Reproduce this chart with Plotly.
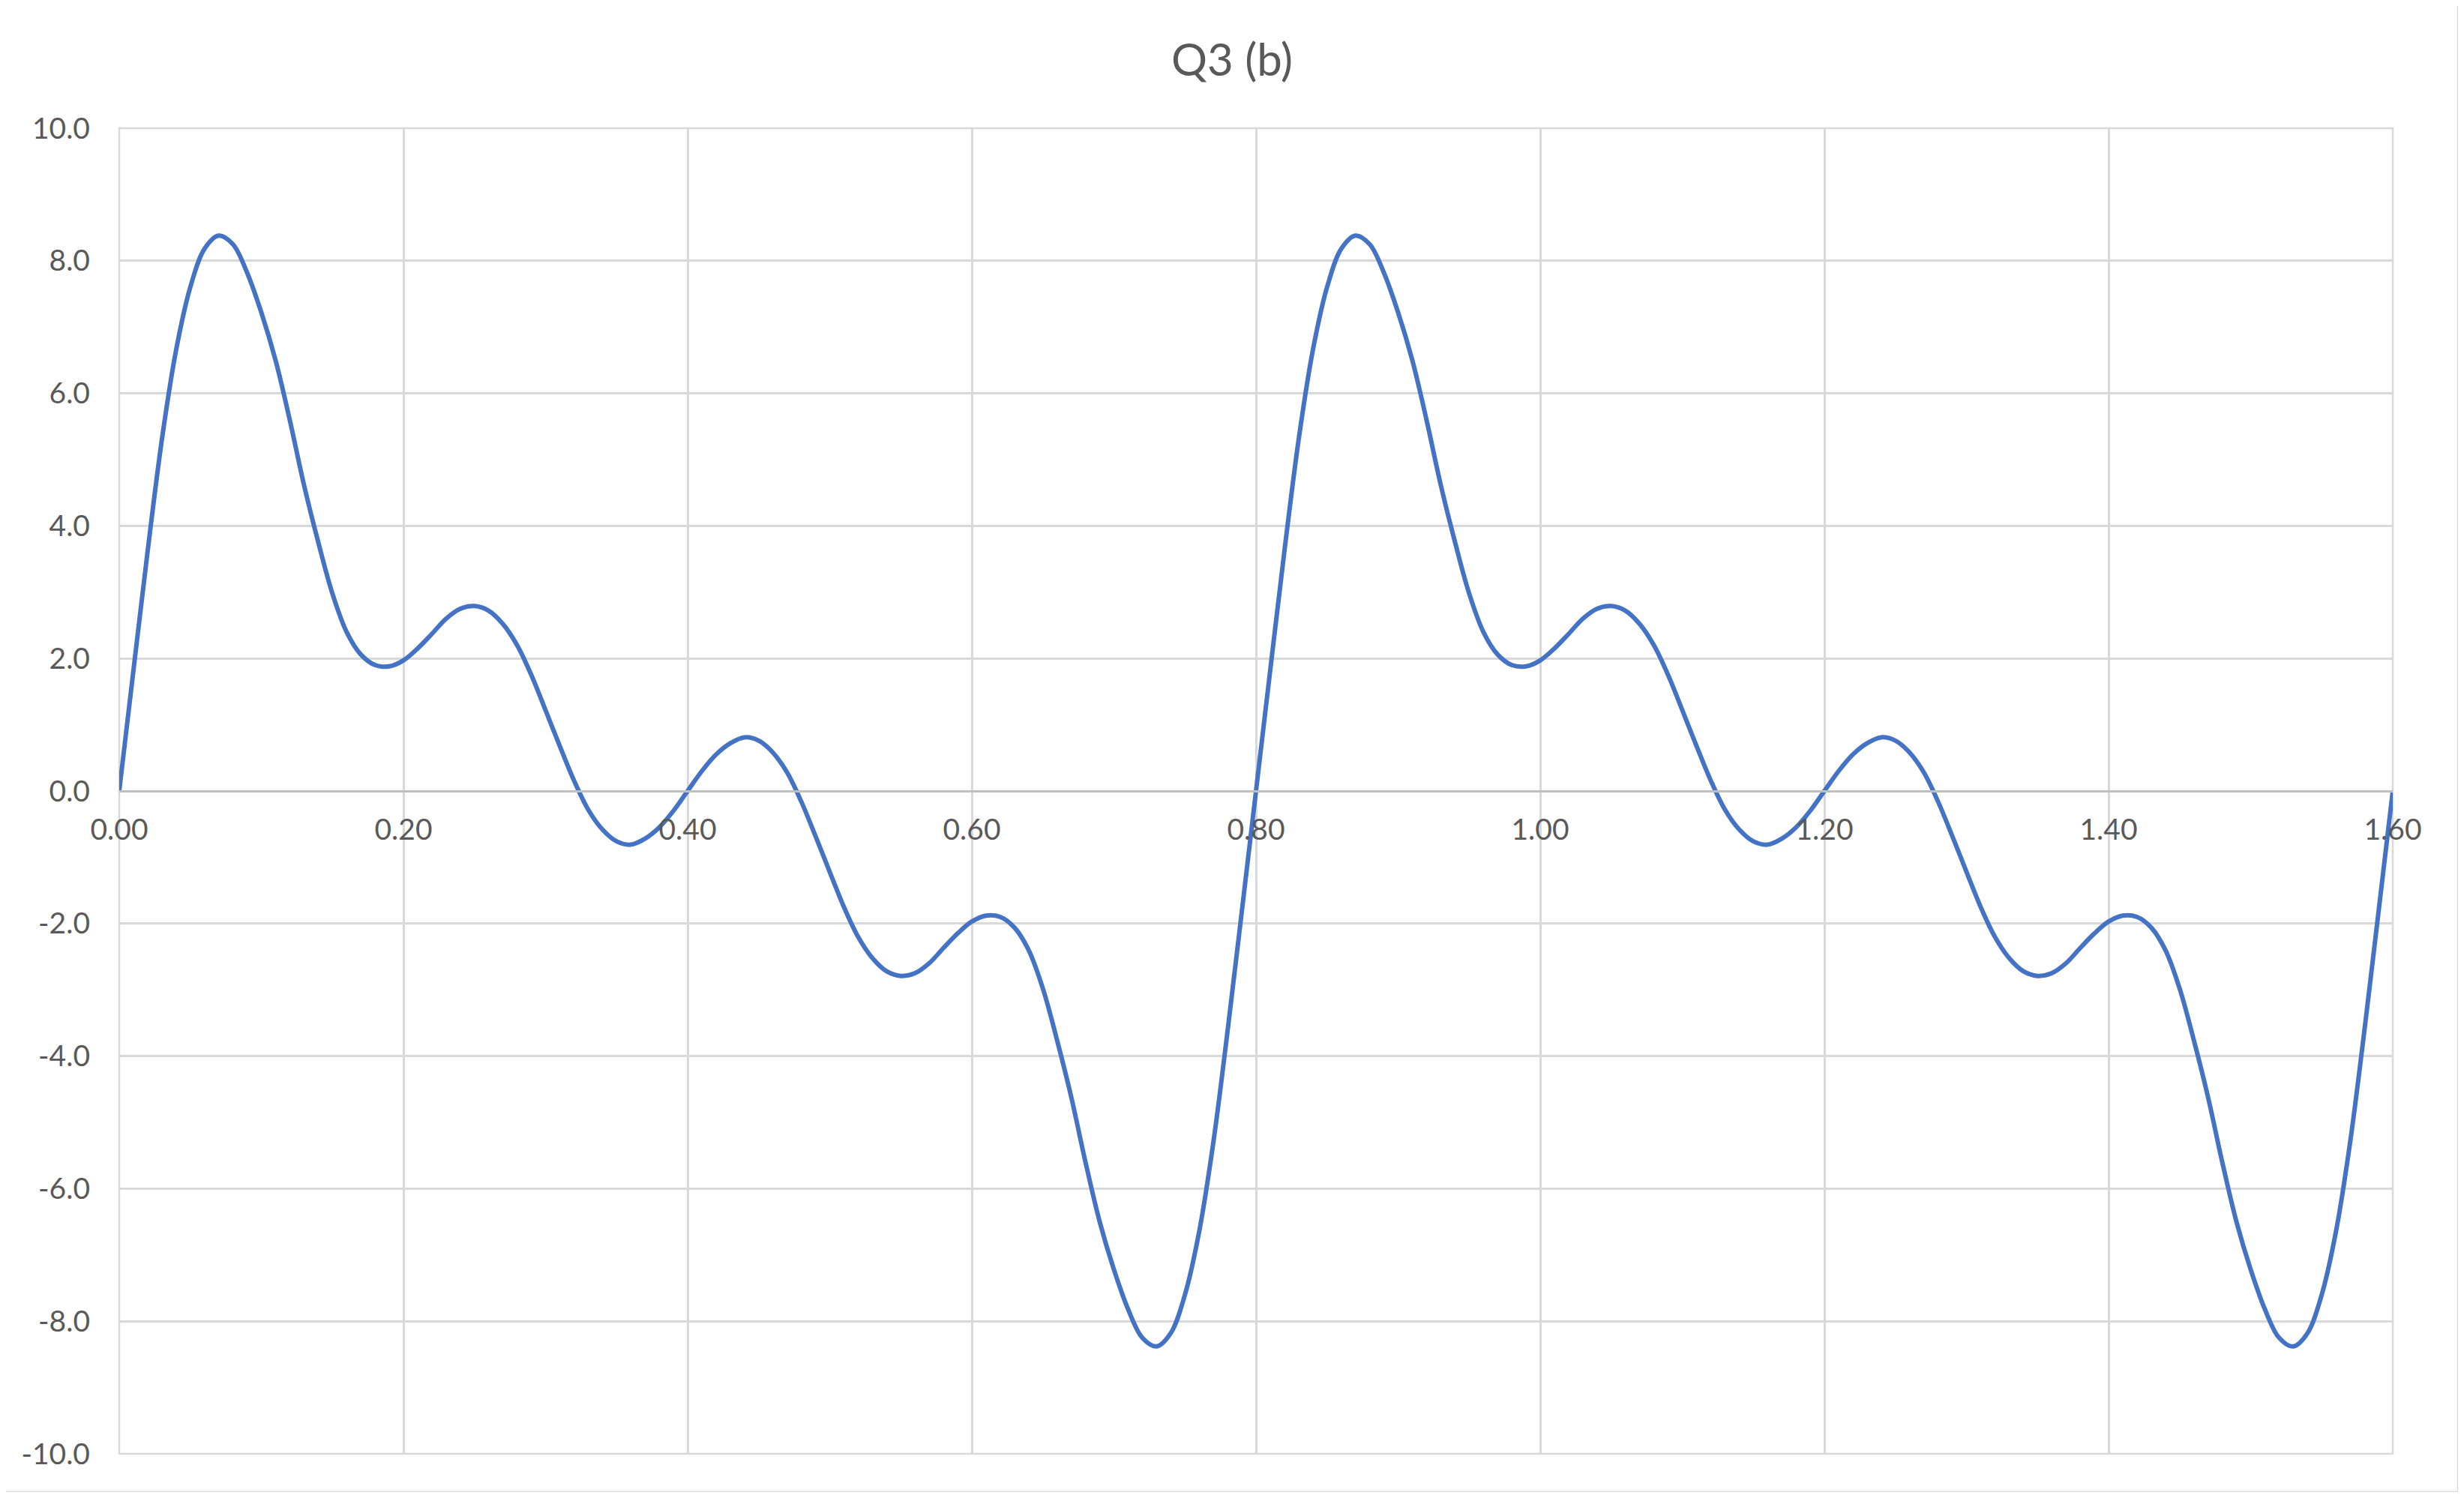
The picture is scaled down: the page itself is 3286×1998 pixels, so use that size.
import plotly.graph_objects as go

# ---- data ----
x_values = [round(i * 0.01, 2) for i in range(161)]

y_first_period = [0.0, 1.82, 3.62, 5.3, 6.65, 7.6, 8.18, 8.38, 8.25, 7.82,
                  7.22, 6.5, 5.6, 4.62, 3.76, 2.98, 2.4, 2.06, 1.9, 1.88,
                  1.97, 2.15, 2.37, 2.6, 2.75, 2.79, 2.72, 2.52, 2.2, 1.75,
                  1.22, 0.68, 0.16, -0.28, -0.58, -0.76, -0.81, -0.72, -0.55, -0.3,
                  0.0, 0.3, 0.55, 0.72, 0.81, 0.76, 0.58, 0.28, -0.16, -0.68,
                  -1.22, -1.75, -2.2, -2.52, -2.72, -2.79, -2.75, -2.6, -2.37, -2.15,
                  -1.97, -1.88, -1.9, -2.06, -2.4, -2.98, -3.76, -4.62, -5.6, -6.5,
                  -7.22, -7.82, -8.25, -8.38, -8.18, -7.6, -6.65, -5.3, -3.62, -1.82,
                  0.0]
y_second_period = [1.82, 3.62, 5.3, 6.65, 7.6, 8.18, 8.38, 8.25, 7.82,
                   7.22, 6.5, 5.6, 4.62, 3.76, 2.98, 2.4, 2.06, 1.9, 1.88,
                   1.97, 2.15, 2.37, 2.6, 2.75, 2.79, 2.72, 2.52, 2.2, 1.75,
                   1.22, 0.68, 0.16, -0.28, -0.58, -0.76, -0.81, -0.72, -0.55, -0.3,
                   0.0, 0.3, 0.55, 0.72, 0.81, 0.76, 0.58, 0.28, -0.16, -0.68,
                   -1.22, -1.75, -2.2, -2.52, -2.72, -2.79, -2.75, -2.6, -2.37, -2.15,
                   -1.97, -1.88, -1.9, -2.06, -2.4, -2.98, -3.76, -4.62, -5.6, -6.5,
                   -7.22, -7.82, -8.25, -8.38, -8.18, -7.6, -6.65, -5.3, -3.62, -1.82,
                   0.0]
y_values = y_first_period + y_second_period

x_ticks = [0.0, 0.2, 0.4, 0.6, 0.8, 1.0, 1.2, 1.4, 1.6]
x_tick_labels = ["0.00", "0.20", "0.40", "0.60", "0.80", "1.00", "1.20", "1.40", "1.60"]
y_ticks = [-10, -8, -6, -4, -2, 0, 2, 4, 6, 8, 10]
y_tick_labels = ["-10.0", "-8.0", "-6.0", "-4.0", "-2.0", "0.0", "2.0", "4.0", "6.0", "8.0", "10.0"]
title_text = "Q3 (b)"

# ---- figure (page body has an 8px margin) ----
OFF = 8
W, H = 3286 - 2 * OFF, 1998 - 2 * OFF
L, T = 159 - OFF, 171 - OFF
R = W - (3191 - OFF)
B = H - (1939 - OFF)
pw, ph = W - L - R, H - T - B

FONT = "Lato, 'Open Sans', sans-serif"
GRID = "#d9d9d9"
TXT = "#595959"

fig = go.Figure()
fig.add_trace(go.Scatter(
    x=x_values, y=y_values, mode="lines",
    line=dict(color="#4472C4", width=6, shape="spline", smoothing=1.0),
    hoverinfo="x+y", showlegend=False,
))

fig.update_layout(
    width=W, height=H,
    margin=dict(l=L, r=R, t=T, b=B, pad=0),
    paper_bgcolor="white", plot_bgcolor="white",
    font=dict(family=FONT, color=TXT, size=39),
    title=dict(text=title_text, x=0.5, xanchor="center",
               y=1 - (80 - OFF) / H, yanchor="middle", yref="container",
               font=dict(family=FONT, size=60, color=TXT)),
    xaxis=dict(
        range=[0, 1.6], tickvals=x_ticks, ticktext=x_tick_labels,
        showgrid=True, gridcolor=GRID, gridwidth=2.5,
        zeroline=False, showline=True, linecolor="#bfbfbf", linewidth=2.5,
        anchor="free", position=0.5, ticks="", ticklabelstandoff=16,
        tickfont=dict(size=39, color=TXT, family=FONT),
    ),
    yaxis=dict(
        range=[-10, 10], tickvals=y_ticks, ticktext=y_tick_labels,
        showgrid=True, gridcolor=GRID, gridwidth=2.5,
        zeroline=False, showline=False, ticks="", ticklabelstandoff=38,
        tickfont=dict(size=39, color=TXT, family=FONT),
    ),
    shapes=[
        # chart outer border
        dict(type="rect", xref="paper", yref="paper",
             x0=(4 - 159) / pw, x1=(3278 - 159) / pw,
             y0=(1939 - 1990) / ph, y1=(1939 - 4) / ph,
             line=dict(color=GRID, width=2.5), fillcolor="rgba(0,0,0,0)",
             layer="below"),
        # plot-area edges (outer gridlines)
        dict(type="rect", xref="paper", yref="paper", x0=0, x1=1, y0=0, y1=1,
             line=dict(color=GRID, width=2.5), fillcolor="rgba(0,0,0,0)",
             layer="below"),
    ],
)

fig.write_html("out.html")
